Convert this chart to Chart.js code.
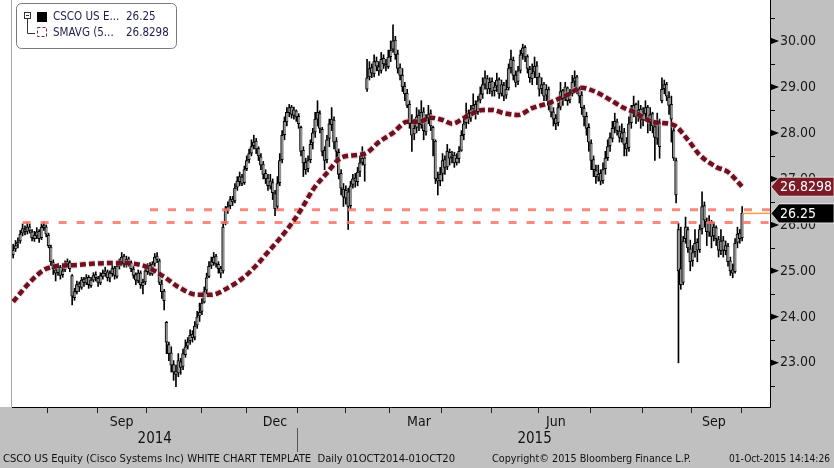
<!DOCTYPE html>
<html>
<head>
<meta charset="utf-8">
<script src="https://cdn.jsdelivr.net/npm/chart.js@4.4.1/dist/chart.umd.min.js"></script>
<style>
  html, body { margin: 0; padding: 0; background: #fff; }
  #wrap { width: 834px; height: 468px; position: relative; }
</style>
</head>
<body>
<div id="wrap"><canvas id="chart"></canvas></div>
<script>
"use strict";

// daily bars, Jul 2014 .. 01 Oct 2015
const opens = [
  25.35,25.48,25.58,25.65,25.82,25.90,25.86,25.96,25.85,25.70,
  25.76,25.86,25.72,25.94,25.96,25.78,25.52,25.18,25.02,24.96,
  25.08,24.92,25.02,25.14,25.18,24.90,24.42,24.55,24.72,24.64,
  24.82,24.74,24.86,24.68,24.80,24.92,24.84,24.74,24.88,24.94,
  24.98,24.84,24.94,25.06,24.88,25.10,25.18,25.32,25.14,25.26,
  25.18,25.04,24.92,24.78,24.96,24.68,24.76,24.98,25.12,24.94,
  25.16,25.32,25.22,24.72,24.56,23.88,23.40,23.22,22.96,22.82,
  22.78,23.02,22.92,23.18,23.36,23.48,23.62,23.56,23.82,24.02,
  24.12,24.32,24.58,24.88,25.12,25.18,25.32,25.14,25.06,25.00,
  26.05,26.32,26.42,26.56,26.52,26.82,26.94,27.04,26.92,27.22,
  27.42,27.56,27.72,27.82,27.66,27.48,27.32,27.12,27.02,26.84,
  26.92,26.68,26.40,26.92,27.42,27.96,28.24,28.44,28.56,28.38,
  28.48,28.36,28.12,27.62,27.36,27.22,27.42,27.78,28.02,28.30,
  28.42,28.08,27.62,27.42,27.88,28.18,28.28,27.82,27.58,27.12,
  26.78,26.58,26.72,26.42,26.88,27.02,26.94,27.16,27.36,27.46,
  28.95,29.22,29.42,29.28,29.56,29.44,29.36,29.62,29.48,29.44,
  29.66,29.82,30.02,29.72,29.42,29.26,29.02,28.86,28.62,28.22,
  27.98,28.12,28.38,28.18,28.46,28.02,28.32,28.42,28.12,27.82,
  27.02,26.96,27.12,27.42,27.26,27.58,27.46,27.52,27.36,27.44,
  27.62,27.96,28.22,28.42,28.32,28.52,28.62,28.46,28.72,28.84,
  29.06,29.18,28.96,29.12,28.92,29.02,29.16,28.86,29.04,28.82,
  28.98,29.42,29.58,29.26,29.12,29.36,29.72,29.86,29.66,29.38,
  29.18,29.32,29.46,29.22,28.96,29.06,28.82,28.94,28.62,28.46,
  28.32,28.22,28.56,28.92,28.76,28.98,28.72,28.86,29.12,29.22,
  28.96,28.82,28.54,28.36,28.12,27.78,27.42,27.18,27.04,27.12,
  26.96,27.22,27.46,27.72,27.88,28.12,28.24,28.04,27.88,28.02,
  27.78,27.68,28.22,28.44,28.62,28.34,28.52,28.28,28.42,28.56,
  28.24,28.42,28.14,27.88,28.22,28.70,28.96,29.06,28.78,28.62,
  28.05,27.40,25.90,25.05,24.75,25.70,25.90,25.48,25.22,25.42,
  25.62,25.46,25.92,26.42,26.08,25.84,26.06,25.76,25.94,25.68,
  25.44,25.66,25.44,25.54,25.22,25.02,24.98,25.62,25.82,25.72
];
const highs = [
  25.58,25.66,25.72,25.88,26.02,25.98,26.05,26.02,25.90,25.86,
  25.94,25.90,26.02,26.06,26.00,25.82,25.56,25.24,25.10,25.16,
  25.12,25.06,25.22,25.26,25.22,24.92,24.62,24.78,24.76,24.86,
  24.86,24.92,24.90,24.86,24.96,24.98,24.88,24.96,25.02,25.08,
  25.02,25.00,25.12,25.10,25.16,25.26,25.40,25.36,25.32,25.30,
  25.22,25.10,24.96,25.02,25.00,24.82,25.06,25.16,25.18,25.20,
  25.38,25.40,25.26,24.80,24.60,23.90,23.45,23.35,23.05,22.95,
  23.20,23.10,23.30,23.50,23.55,23.72,23.70,23.90,24.12,24.30,
  24.40,24.65,24.95,25.20,25.30,25.40,25.36,25.20,25.10,26.05,
  26.40,26.50,26.62,26.62,26.90,27.05,27.15,27.10,27.28,27.50,
  27.65,27.85,27.95,27.88,27.70,27.55,27.38,27.20,27.10,27.10,
  27.00,26.75,27.05,27.55,28.05,28.35,28.55,28.62,28.60,28.56,
  28.50,28.42,28.15,27.70,27.45,27.50,27.85,28.10,28.45,28.70,
  28.48,28.12,27.70,27.95,28.30,28.55,28.35,27.90,27.65,27.20,
  26.90,26.85,26.80,26.95,27.10,27.12,27.25,27.50,27.70,27.55,
  29.60,29.55,29.50,29.70,29.65,29.55,29.75,29.70,29.60,29.80,
  30.00,30.35,30.10,29.80,29.50,29.40,29.10,28.95,28.70,28.40,
  28.30,28.55,28.50,28.70,28.55,28.40,28.60,28.50,28.15,27.85,
  27.15,27.25,27.55,27.50,27.75,27.65,27.60,27.58,27.55,27.70,
  28.05,28.35,28.65,28.50,28.60,28.85,28.70,28.80,29.00,29.20,
  29.35,29.25,29.20,29.20,29.10,29.30,29.20,29.15,29.10,29.15,
  29.50,29.80,29.65,29.35,29.45,29.80,29.93,29.90,29.70,29.45,
  29.50,29.65,29.55,29.30,29.20,29.10,29.05,29.00,28.70,28.55,
  28.40,28.65,29.10,28.95,29.10,29.00,28.95,29.25,29.35,29.25,
  29.00,28.90,28.60,28.45,28.20,27.85,27.50,27.30,27.30,27.20,
  27.35,27.60,27.85,28.00,28.25,28.43,28.30,28.15,28.20,28.10,
  27.90,28.35,28.60,28.80,28.65,28.70,28.60,28.55,28.70,28.60,
  28.55,28.45,28.25,28.43,28.30,29.20,29.15,29.10,28.90,28.80,
  28.10,27.45,26.04,25.95,25.75,26.17,25.95,25.67,25.55,25.90,
  25.70,26.00,26.72,26.50,26.15,26.20,26.10,26.05,25.98,25.75,
  25.90,25.75,25.65,25.60,25.30,25.15,25.70,25.95,25.90,26.40
];
const lows = [
  25.28,25.42,25.50,25.60,25.76,25.78,25.80,25.82,25.65,25.64,
  25.70,25.62,25.68,25.88,25.74,25.50,25.12,24.92,24.78,24.90,
  24.82,24.86,24.98,25.10,24.98,24.26,24.36,24.50,24.55,24.60,
  24.66,24.70,24.62,24.64,24.76,24.78,24.66,24.70,24.82,24.88,
  24.78,24.76,24.88,24.82,24.84,25.04,25.12,25.08,25.08,25.10,
  24.98,24.84,24.70,24.74,24.62,24.50,24.70,24.92,24.90,24.90,
  25.10,25.18,24.70,24.40,24.15,23.20,23.05,22.80,22.62,22.48,
  22.70,22.75,22.85,23.12,23.30,23.40,23.45,23.50,23.75,23.90,
  24.05,24.30,24.50,24.85,25.05,25.12,25.08,24.95,24.85,24.95,
  26.00,26.25,26.35,26.42,26.48,26.75,26.85,26.85,26.88,27.18,
  27.35,27.50,27.65,27.55,27.40,27.20,27.00,26.90,26.75,26.78,
  26.55,26.20,26.35,26.85,27.35,27.85,28.15,28.35,28.32,28.30,
  28.25,28.10,27.50,27.05,27.10,27.15,27.35,27.65,27.90,28.15,
  28.00,27.50,27.20,27.35,27.70,28.05,27.65,27.40,27.00,26.65,
  26.40,26.45,25.90,26.35,26.80,26.82,26.85,27.05,27.30,26.95,
  28.90,29.15,29.20,29.22,29.35,29.25,29.30,29.40,29.35,29.40,
  29.55,29.75,29.60,29.30,29.15,28.90,28.70,28.55,28.10,27.60,
  27.85,28.00,28.05,28.10,27.85,27.95,28.20,28.05,27.50,26.90,
  26.65,26.85,26.95,27.10,27.20,27.30,27.35,27.25,27.30,27.35,
  27.60,27.85,28.10,28.20,28.25,28.45,28.30,28.40,28.65,28.75,
  28.95,28.85,28.85,28.80,28.80,28.90,28.75,28.80,28.70,28.75,
  28.93,29.30,29.15,29.00,29.05,29.30,29.60,29.55,29.30,29.10,
  29.05,29.20,29.05,28.80,28.85,28.70,28.70,28.50,28.35,28.15,
  28.07,28.15,28.50,28.60,28.70,28.60,28.65,28.80,29.00,28.85,
  28.65,28.40,28.15,27.95,27.60,27.20,27.05,26.90,26.95,26.87,
  26.90,27.10,27.40,27.60,27.80,28.00,27.95,27.80,27.80,27.50,
  27.50,27.60,28.10,28.35,28.20,28.25,28.10,28.15,28.30,28.00,
  28.05,28.00,27.40,27.75,27.45,28.65,28.85,28.70,28.40,27.80,
  27.40,26.48,23.00,24.60,24.70,25.60,25.40,25.00,25.10,25.30,
  25.20,25.40,25.80,25.95,25.55,25.75,25.50,25.65,25.55,25.30,
  25.35,25.30,25.35,25.10,24.90,24.85,24.95,25.50,25.60,25.65
];
const closes = [
  25.45,25.55,25.62,25.80,25.92,25.85,25.95,25.88,25.72,25.78,
  25.85,25.70,25.95,25.98,25.80,25.55,25.20,25.05,24.95,25.10,
  24.90,25.00,25.15,25.20,25.05,24.45,24.55,24.70,24.65,24.80,
  24.75,24.85,24.70,24.80,24.90,24.85,24.75,24.90,24.95,25.00,
  24.85,24.95,25.05,24.90,25.10,25.20,25.30,25.15,25.25,25.20,
  25.05,24.90,24.80,24.95,24.70,24.75,25.00,25.10,24.95,25.15,
  25.30,25.25,24.75,24.55,24.35,23.45,23.20,22.95,22.80,22.75,
  23.05,22.90,23.20,23.35,23.45,23.60,23.55,23.80,24.00,24.10,
  24.30,24.55,24.85,25.10,25.20,25.30,25.15,25.05,24.95,25.95,
  26.35,26.40,26.55,26.50,26.80,26.95,27.05,26.90,27.20,27.40,
  27.55,27.70,27.80,27.65,27.50,27.30,27.10,27.00,26.85,26.95,
  26.70,26.35,26.90,27.40,27.95,28.25,28.45,28.55,28.40,28.50,
  28.35,28.20,27.60,27.35,27.20,27.40,27.75,28.00,28.30,28.45,
  28.10,27.60,27.40,27.85,28.20,28.30,27.80,27.60,27.10,26.80,
  26.60,26.75,26.40,26.85,27.00,26.95,27.15,27.35,27.45,27.30,
  29.20,29.40,29.30,29.55,29.45,29.35,29.60,29.50,29.45,29.65,
  29.80,30.00,29.70,29.40,29.25,29.00,28.85,28.60,28.20,27.95,
  28.10,28.35,28.20,28.45,28.05,28.30,28.40,28.15,27.85,27.00,
  26.95,27.10,27.40,27.25,27.60,27.45,27.50,27.35,27.45,27.60,
  27.95,28.20,28.40,28.30,28.50,28.60,28.45,28.70,28.85,29.05,
  29.20,28.95,29.10,28.90,29.00,29.15,28.85,29.05,28.80,28.95,
  29.40,29.60,29.25,29.10,29.35,29.70,29.85,29.65,29.40,29.20,
  29.30,29.45,29.20,28.95,29.05,28.80,28.95,28.60,28.45,28.30,
  28.20,28.55,28.90,28.75,29.00,28.70,28.85,29.10,29.20,28.95,
  28.80,28.55,28.35,28.10,27.80,27.40,27.20,27.05,27.10,26.95,
  27.20,27.45,27.70,27.90,28.10,28.25,28.05,27.90,28.00,27.75,
  27.65,28.20,28.45,28.60,28.35,28.50,28.30,28.40,28.55,28.25,
  28.40,28.15,27.90,28.20,27.70,28.95,29.05,28.80,28.60,28.30,
  27.45,26.65,25.00,24.70,25.65,25.95,25.50,25.20,25.40,25.60,
  25.45,25.90,26.40,26.10,25.85,26.05,25.75,25.95,25.70,25.45,
  25.65,25.45,25.55,25.20,25.00,24.95,25.60,25.80,25.70,26.25
];

// moving average, read at a few days along the curve
const smaDay = [0,7,13,17,27,41,48,54,57,64,70,78,84,91,98,104,107,116,122,127,133,139,146,150,155,161,167,172,177,182,186,192,199,203,208,214,220,227,235,241,247,253,259,263,271,280,286,291,298,303,309];
const smaVal = [24.33,24.75,25.02,25.09,25.13,25.17,25.17,25.13,25.08,24.87,24.65,24.48,24.48,24.63,24.87,25.17,25.35,25.89,26.33,26.76,27.13,27.46,27.52,27.57,27.80,28.00,28.24,28.24,28.33,28.28,28.20,28.35,28.50,28.50,28.43,28.39,28.54,28.65,28.83,28.98,28.89,28.72,28.54,28.46,28.24,28.17,27.85,27.52,27.26,27.15,26.83];

// horizontal dashed levels
const levelPrice = [26.33, 26.05];
const levelFromDay = [58, 4];

const lastPrice = 26.25;
const legendNames = ["CSCO US E...", "SMAVG (5..."];
const legendValues = ["26.25", "26.8298"];
const tagValues = [26.8298, 26.25];
const tagTexts = ["26.8298", "26.25"];

// time axis
const monthStartDay = [15, 36, 57, 80, 99, 121, 141, 160, 182, 203, 223, 245, 267, 288, 309];
const monthLabels = ["Sep", "Dec", "Mar", "Jun", "Sep"];
const monthLabelDay = [46, 111, 172, 230, 297];
const yearLabels = ["2014", "2015"];
const yearLabelDay = [60, 221];
const yearBreakDay = 120.5;

const yMajor = [23, 24, 25, 26, 27, 28, 29, 30];
const yMinor = [22.5, 23.5, 24.5, 25.5, 26.5, 27.5, 28.5, 29.5, 30.5];

const footerLeft = "CSCO US Equity (Cisco Systems Inc) WHITE CHART TEMPLATE  Daily 01OCT2014-01OCT20";
const footerMid = "Copyright\u00a9 2015 Bloomberg Finance L.P.";
const footerRight = "01-Oct-2015 14:14:26";

const X_MAX = 320.8;
const COND = "'DejaVu Sans Condensed', 'DejaVu Sans', sans-serif";

const wickData = closes.map((c, i) => ({ x: i, y: [lows[i], highs[i]] }));
const bodyData = closes.map((c, i) => ({ x: i, y: [Math.min(opens[i], c), Math.max(opens[i], c)] }));
const smaData = smaDay.map((d, i) => ({ x: d, y: smaVal[i] }));

function levelSet(k) {
  return {
    type: "line",
    data: [{ x: levelFromDay[k], y: levelPrice[k] }, { x: X_MAX, y: levelPrice[k] }],
    borderColor: "rgba(248,118,102,0.85)",
    borderWidth: 3,
    borderDash: [8, 10],
    pointRadius: 0,
    order: 3
  };
}

function fitText(ctx, txt, x, y, w) {
  const m = ctx.measureText(txt).width;
  ctx.save();
  ctx.translate(x, y);
  ctx.scale(w / m, 1);
  ctx.fillText(txt, 0, 0);
  ctx.restore();
}

const bbgFrame = {
  id: "bbgFrame",
  beforeDraw(chart) {
    const { ctx, chartArea: a, width, height } = chart;
    ctx.save();
    ctx.fillStyle = "#fff";
    ctx.fillRect(0, 0, width, height);
    ctx.fillStyle = "#c0c0c0";
    ctx.fillRect(0, a.bottom, width, height - a.bottom);
    ctx.fillRect(a.right, 0, width - a.right, height);
    ctx.restore();
  },
  afterDraw(chart) {
    const { ctx, chartArea: a, width } = chart;
    const xs = chart.scales.x, ys = chart.scales.y;
    ctx.save();

    // frame
    ctx.strokeStyle = "#a8a8a8";
    ctx.lineWidth = 1;
    ctx.beginPath();
    ctx.moveTo(a.left - 0.5, 0);
    ctx.lineTo(a.left - 0.5, a.bottom);
    ctx.stroke();
    ctx.strokeStyle = "#000";
    ctx.beginPath();
    ctx.moveTo(a.left, a.bottom + 0.5);
    ctx.lineTo(a.right + 0.5, a.bottom + 0.5);
    ctx.lineTo(a.right + 0.5, 0);
    ctx.stroke();

    // time axis ticks and labels
    ctx.strokeStyle = "#222";
    monthStartDay.forEach(d => {
      const px = Math.round(xs.getPixelForValue(d - 0.5)) + 0.5;
      ctx.beginPath();
      ctx.moveTo(px, a.bottom);
      ctx.lineTo(px, a.bottom + 6);
      ctx.stroke();
    });
    ctx.fillStyle = "#111";
    ctx.textAlign = "center";
    ctx.textBaseline = "middle";
    ctx.font = "14px " + COND;
    monthLabels.forEach((t, i) => ctx.fillText(t, xs.getPixelForValue(monthLabelDay[i]), a.bottom + 15));
    ctx.font = "15px " + COND;
    yearLabels.forEach((t, i) => ctx.fillText(t, xs.getPixelForValue(yearLabelDay[i]), a.bottom + 32));
    const bx = Math.round(xs.getPixelForValue(yearBreakDay)) + 0.5;
    ctx.strokeStyle = "#555";
    ctx.beginPath();
    ctx.moveTo(bx, a.bottom + 21);
    ctx.lineTo(bx, a.bottom + 45);
    ctx.stroke();

    // footer
    ctx.textAlign = "left";
    ctx.font = "10px " + COND;
    fitText(ctx, footerLeft, 3, 459, 452);
    fitText(ctx, footerMid, 492, 459, 199);
    fitText(ctx, footerRight, 729, 459, 101);

    // price axis tick marks
    ctx.fillStyle = "#000";
    yMajor.forEach(v => {
      const py = ys.getPixelForValue(v);
      ctx.beginPath();
      ctx.moveTo(a.right, py - 3.5);
      ctx.lineTo(a.right + 9, py);
      ctx.lineTo(a.right, py + 3.5);
      ctx.closePath();
      ctx.fill();
    });
    ctx.strokeStyle = "#000";
    yMinor.forEach(v => {
      const py = Math.round(ys.getPixelForValue(v)) + 0.5;
      ctx.beginPath();
      ctx.moveTo(a.right, py);
      ctx.lineTo(a.right + 5, py);
      ctx.stroke();
    });

    // last value tags
    const tagFill = ["#7b1b27", "#000"];
    ctx.font = "14px " + COND;
    ctx.textBaseline = "middle";
    tagValues.forEach((v, i) => {
      const yc = ys.getPixelForValue(v);
      ctx.beginPath();
      ctx.moveTo(a.right + 1, yc);
      ctx.lineTo(a.right + 9, yc - 9.5);
      ctx.lineTo(width, yc - 9.5);
      ctx.lineTo(width, yc + 9.5);
      ctx.lineTo(a.right + 9, yc + 9.5);
      ctx.closePath();
      ctx.fillStyle = tagFill[i];
      ctx.fill();
      ctx.strokeStyle = "rgba(255,255,255,0.7)";
      ctx.lineWidth = 1;
      ctx.stroke();
      ctx.fillStyle = "#fff";
      ctx.fillText(tagTexts[i], a.right + 10, yc + 1);
    });

    // legend box
    ctx.fillStyle = "#fff";
    ctx.strokeStyle = "#7a7a7a";
    ctx.beginPath();
    ctx.roundRect(16.5, 3.5, 160, 45, 5);
    ctx.fill();
    ctx.stroke();
    ctx.strokeStyle = "#333";
    ctx.strokeRect(24.5, 12.5, 6, 6);
    ctx.beginPath();
    ctx.moveTo(26, 15.5); ctx.lineTo(29, 15.5);
    ctx.moveTo(27.5, 18.5); ctx.lineTo(27.5, 33.5); ctx.lineTo(35, 33.5);
    ctx.stroke();
    ctx.fillStyle = "#000";
    ctx.fillRect(37, 12, 10, 10);
    ctx.strokeStyle = "#8b2020";
    ctx.setLineDash([3, 2]);
    ctx.strokeRect(37.5, 27.5, 9, 9);
    ctx.setLineDash([]);
    ctx.fillStyle = "#1d1d4f";
    ctx.font = "11.5px " + COND;
    ctx.textAlign = "left";
    legendNames.forEach((t, i) => {
      const ty = 17.5 + i * 15.5;
      ctx.fillText(t, 53, ty);
      ctx.fillText(legendValues[i], 126, ty);
    });
    ctx.restore();
  }
};

new Chart(document.getElementById("chart"), {
  data: {
    datasets: [
      {
        type: "line",
        data: smaData,
        borderColor: "#6e1020",
        borderWidth: 4.5,
        borderDash: [6, 3],
        pointRadius: 0,
        cubicInterpolationMode: "monotone",
        order: 0
      },
      {
        type: "line",
        data: smaData,
        borderColor: "rgba(225,160,168,0.4)",
        borderWidth: 7,
        borderDash: [6, 3],
        pointRadius: 0,
        cubicInterpolationMode: "monotone",
        order: 1
      },
      {
        type: "line",
        data: [{ x: closes.length - 1, y: lastPrice }, { x: X_MAX, y: lastPrice }],
        borderColor: "#f2a33a",
        borderWidth: 1.5,
        pointRadius: 0,
        order: 2
      },
      levelSet(0),
      levelSet(1),
      {
        type: "bar",
        data: bodyData,
        backgroundColor: "#8f8f8f",
        borderColor: "#000",
        borderWidth: { left: 1, right: 0, top: 1, bottom: 1 },
        borderSkipped: false,
        barThickness: 3,
        minBarLength: 2,
        grouped: false,
        order: 4
      },
      {
        type: "bar",
        data: wickData,
        backgroundColor: "#000",
        barThickness: 1,
        grouped: false,
        order: 5
      }
    ]
  },
  options: {
    responsive: true,
    maintainAspectRatio: false,
    animation: false,
    layout: { padding: { left: 12, top: 0, right: 0, bottom: 61 } },
    plugins: { legend: { display: false }, tooltip: { enabled: false } },
    scales: {
      x: { type: "linear", min: -0.5, max: X_MAX, offset: false, display: false },
      y: {
        type: "linear",
        position: "right",
        min: 22.04,
        max: 30.89,
        grid: { display: false, drawTicks: false },
        border: { display: false },
        afterBuildTicks: s => { s.ticks = yMajor.concat(yMinor).sort((p, q) => p - q).map(v => ({ value: v })); },
        afterFit: s => { s.width = 64; s.paddingTop = 0; s.paddingBottom = 0; },
        ticks: {
          autoSkip: false,
          padding: 10,
          color: "#1a1a1a",
          font: { family: "'DejaVu Sans Condensed', 'DejaVu Sans', sans-serif", size: 14 },
          callback: v => Number.isInteger(v) ? v.toFixed(2) : ""
        }
      }
    }
  },
  plugins: [bbgFrame]
});
</script>
</body>
</html>
